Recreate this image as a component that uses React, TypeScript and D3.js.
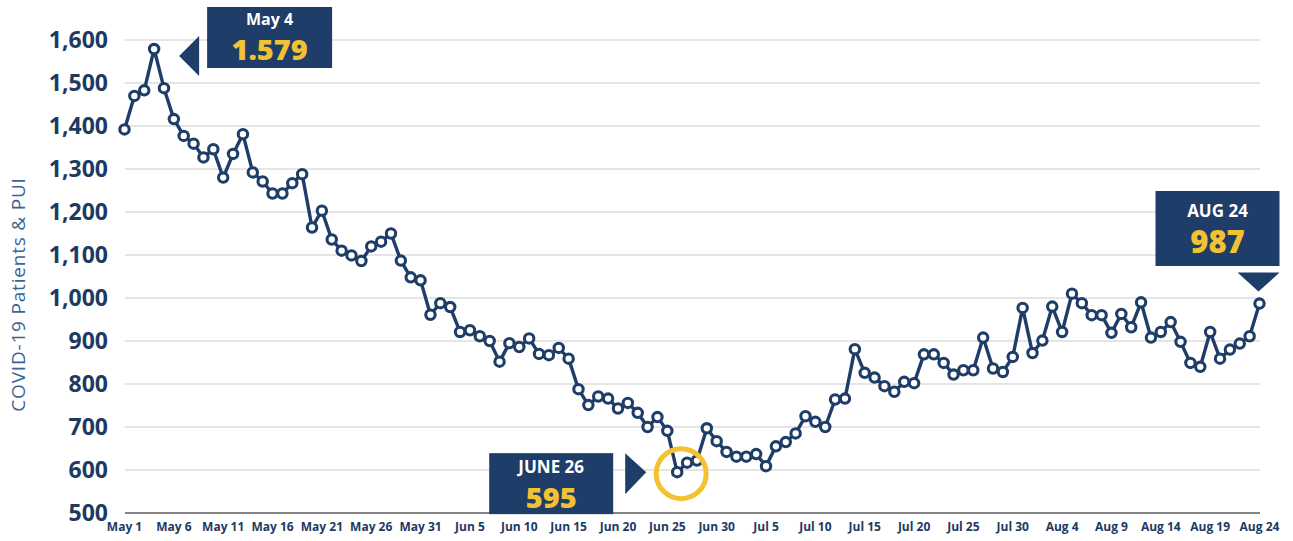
import React from 'react';
import * as d3 from 'd3';

// daily COVID-19 patients & PUI, May 1 – Aug 24
const mayValues = [1392, 1470, 1483, 1579, 1488, 1416, 1377, 1359, 1327, 1346, 1280, 1335, 1381, 1292, 1271, 1243, 1243, 1267, 1288, 1164, 1203, 1136, 1110, 1099, 1086, 1120, 1131, 1150, 1087, 1048, 1041];
const juneValues = [961, 988, 979, 921, 925, 911, 900, 852, 895, 886, 906, 870, 867, 884, 859, 788, 751, 771, 766, 743, 756, 733, 700, 723, 691, 595, 617, 622, 697, 667];
const julyValues = [642, 631, 631, 637, 609, 655, 665, 685, 725, 712, 700, 764, 766, 881, 826, 815, 795, 782, 805, 802, 869, 869, 849, 822, 832, 832, 908, 836, 828, 863, 977];
const augValues = [872, 901, 980, 921, 1010, 988, 960, 960, 919, 963, 932, 990, 908, 921, 944, 898, 849, 840, 921, 859, 880, 894, 911, 987];

const tickLabels = ['May 1', 'May 6', 'May 11', 'May 16', 'May 21', 'May 26', 'May 31', 'Jun 5', 'Jun 10', 'Jun 15', 'Jun 20', 'Jun 25', 'Jun 30', 'Jul 5', 'Jul 10', 'Jul 15', 'Jul 20', 'Jul 25', 'Jul 30', 'Aug 4', 'Aug 9', 'Aug 14', 'Aug 19', 'Aug 24'];
const yTicks = [500, 600, 700, 800, 900, 1000, 1100, 1200, 1300, 1400, 1500, 1600];

const values = [...mayValues, ...juneValues, ...julyValues, ...augValues];

// callouts: index into values, label
const peak = { index: 3, label: 'May 4', text: '1.579' };
const low = { index: 56, label: 'JUNE 26', text: '595' };
const last = { index: values.length - 1, label: 'AUG 24', text: '987' };

const NAVY = '#1e3d68';
const YELLOW = '#f3c232';
const FONT = '"Open Sans", "DejaVu Sans", sans-serif';

export default function App() {
  const width = 1293;
  const height = 541;

  const x = d3.scaleLinear().domain([0, values.length - 1]).range([124.5, 1259.5]);
  const y = d3.scaleLinear().domain([500, 1600]).range([513, 40]);

  const line = d3
    .line<number>()
    .x((d, i) => x(i))
    .y((d) => y(d));

  const fmt = d3.format(',');

  // anchor points for callouts
  const px = x(peak.index), py = y(values[peak.index]);
  const lx = x(low.index), ly = y(values[low.index]);
  const ex = x(last.index), ey = y(values[last.index]);

  return (
    <svg width={width} height={height} style={{ position: 'absolute', left: 0, top: 0, background: '#fff' }}>
      {/* grid */}
      {yTicks.slice(1).map((t) => (
        <line key={t} x1={125} x2={1260} y1={y(t)} y2={y(t)} stroke="#dcdcdc" strokeWidth={1.5} />
      ))}
      <line x1={125} x2={1260} y1={y(500)} y2={y(500)} stroke="#5a5a5a" strokeWidth={1.3} />

      {/* y tick labels */}
      {yTicks.map((t) => (
        <text key={t} x={108} y={y(t) + 2} textAnchor="end" dominantBaseline="middle"
          fontFamily={FONT} fontWeight={700} fontSize={23} fill="#1d3a62">
          {fmt(t)}
        </text>
      ))}

      {/* y axis title */}
      <text transform={`translate(25,${(y(500) + y(1600)) / 2 + 18}) rotate(-90)`} textAnchor="middle"
        fontFamily={FONT} fontSize={19} letterSpacing={0.8} fill="#3c6493">
        COVID-19 Patients &amp; PUI
      </text>

      {/* x tick labels */}
      {tickLabels.map((t, i) => (
        <text key={t} x={x(i * 5)} y={528} textAnchor="middle" dominantBaseline="middle"
          fontFamily={FONT} fontWeight={700} fontSize={12} fill="#1d3a62">
          {t}
        </text>
      ))}

      {/* line + markers */}
      <path d={line(values) ?? ''} fill="none" stroke={NAVY} strokeWidth={3.4} strokeLinejoin="round" />
      {values.map((v, i) => (
        <circle key={i} cx={x(i)} cy={y(v)} r={4.7} fill="#fff" stroke={NAVY} strokeWidth={3.1} />
      ))}

      {/* May 4 callout */}
      <polygon points={`${px + 25},${py + 7} ${px + 45},${py - 13} ${px + 45},${py + 27}`} fill={NAVY} />
      <rect x={px + 53} y={7} width={125} height={61} fill={NAVY} />
      <text x={px + 115.5} y={21} textAnchor="middle" dominantBaseline="middle" fontFamily={FONT}
        fontWeight={700} fontSize={16} fill="#fff">{peak.label}</text>
      <text x={px + 115.5} y={52} textAnchor="middle" dominantBaseline="middle" fontFamily={FONT}
        fontWeight={800} fontSize={29} fill={YELLOW}>{peak.text}</text>

      {/* June 26 callout */}
      <rect x={lx - 188} y={ly - 19} width={124} height={61} fill={NAVY} />
      <text x={lx - 126} y={ly - 4} textAnchor="middle" dominantBaseline="middle" fontFamily={FONT}
        fontWeight={700} fontSize={17} fill="#fff">{low.label}</text>
      <text x={lx - 126} y={ly + 28} textAnchor="middle" dominantBaseline="middle" fontFamily={FONT}
        fontWeight={800} fontSize={29} fill={YELLOW}>{low.text}</text>
      <polygon points={`${lx - 52},${ly - 19} ${lx - 31},${ly} ${lx - 52},${ly + 22}`} fill={NAVY} />
      <circle cx={lx + 4} cy={ly + 1.5} r={25} fill="none" stroke={YELLOW} strokeWidth={5} />

      {/* Aug 24 callout */}
      <rect x={ex - 104} y={191} width={124} height={75} fill={NAVY} />
      <text x={ex - 42} y={212} textAnchor="middle" dominantBaseline="middle" fontFamily={FONT}
        fontWeight={700} fontSize={17} fill="#fff">{last.label}</text>
      <text x={ex - 42} y={245} textAnchor="middle" dominantBaseline="middle" fontFamily={FONT}
        fontWeight={800} fontSize={31} fill={YELLOW}>{last.text}</text>
      <polygon points={`${ex - 22},${ey - 31} ${ex + 20},${ey - 31} ${ex - 1},${ey - 12}`} fill={NAVY} />
    </svg>
  );
}
